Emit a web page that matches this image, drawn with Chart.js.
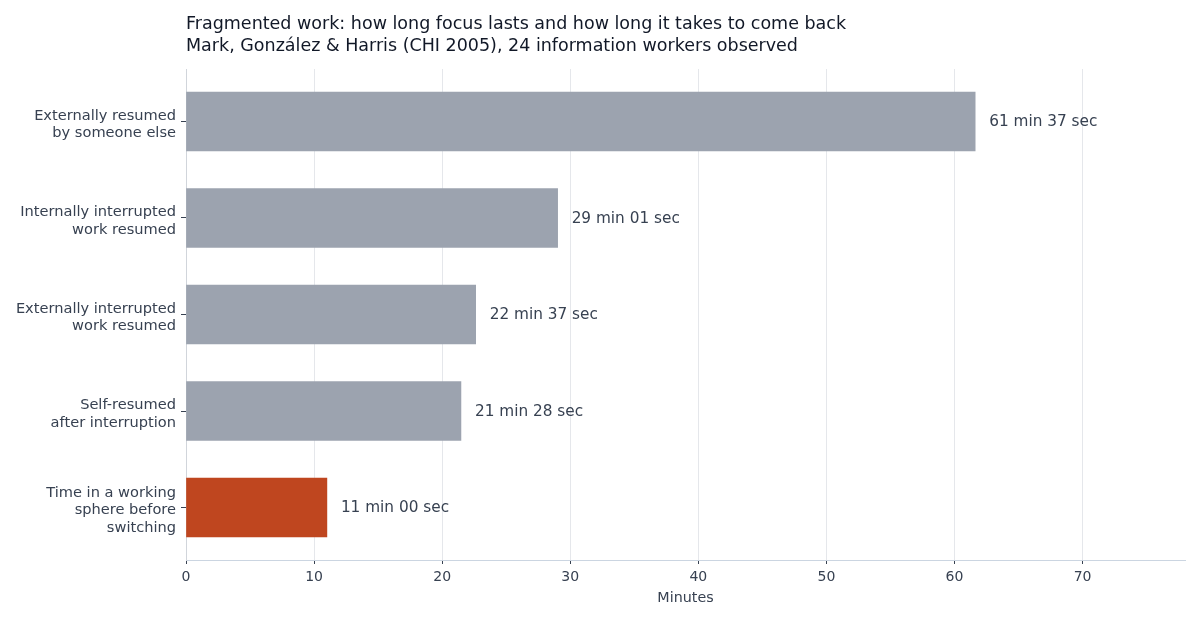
<!DOCTYPE html>
<html>
<head>
<meta charset="utf-8">
<script src="https://cdn.jsdelivr.net/npm/chart.js@4"></script>
<style>
  html, body { margin: 0; padding: 0; background: #ffffff; }
  #wrap { width: 1200px; height: 620px; }
</style>
</head>
<body>
<div id="wrap"><canvas id="c" width="1200" height="620"></canvas></div>
<script>
const categories = [
  ["Externally resumed", "by someone else"],
  ["Internally interrupted", "work resumed"],
  ["Externally interrupted", "work resumed"],
  ["Self-resumed", "after interruption"],
  ["Time in a working", "sphere before", "switching"]
];
const minutes = [61, 29, 22, 21, 11];
const seconds = [37, 1, 37, 28, 0];
const xTicks = [0, 10, 20, 30, 40, 50, 60, 70];
const highlightIndex = 4;

const values = minutes.map((m, i) => m + seconds[i] / 60);
const valueLabels = minutes.map((m, i) => m + " min " + String(seconds[i]).padStart(2, "0") + " sec");

const FONT = "'DejaVu Sans', sans-serif";
const TEXT = "#374151";

const titleLeftPlugin = {
  id: "titleLeft",
  afterLayout(chart) {
    if (chart.titleBlock) {
      chart.titleBlock.left = chart.chartArea.left;
    }
  }
};

const valueLabelPlugin = {
  id: "valueLabels",
  afterDatasetsDraw(chart) {
    const ctx = chart.ctx;
    const meta = chart.getDatasetMeta(0);
    ctx.save();
    ctx.font = "15.3px " + FONT;
    ctx.fillStyle = TEXT;
    ctx.textAlign = "left";
    ctx.textBaseline = "middle";
    meta.data.forEach((bar, i) => {
      ctx.fillText(valueLabels[i], bar.x + 14, bar.y + 1);
    });
    ctx.restore();
  }
};

new Chart(document.getElementById("c"), {
  type: "bar",
  data: {
    datasets: [{
      data: values.map((v, i) => ({ x: v, y: i })),
      backgroundColor: (ctx) => ctx.dataIndex === highlightIndex ? "#bf461f" : "#9ca3af",
      borderWidth: 0,
      barThickness: 59
    }]
  },
  options: {
    indexAxis: "y",
    responsive: false,
    animation: false,
    devicePixelRatio: 1,
    layout: { padding: { left: 0, right: 15, top: 0, bottom: 0 } },
    plugins: {
      legend: { display: false },
      tooltip: { enabled: false },
      title: {
        display: true,
        align: "start",
        text: [
          "Fragmented work: how long focus lasts and how long it takes to come back",
          "Mark, González & Harris (CHI 2005), 24 information workers observed"
        ],
        color: "#111827",
        font: { family: FONT, size: 17.5, weight: "normal", lineHeight: 1.24 },
        padding: { top: 14, bottom: 11.6 }
      }
    },
    scales: {
      x: {
        type: "linear",
        min: 0,
        max: 78,
        afterBuildTicks: (s) => { s.ticks = xTicks.map(v => ({ value: v })); },
        afterFit: (s) => { s.height = 60; },
        grid: {
          color: "#e5e7eb",
          lineWidth: 1,
          drawTicks: true,
          tickLength: 4,
          tickColor: TEXT
        },
        border: { display: true, color: "#cbd5e1", width: 1 },
        ticks: {
          color: TEXT,
          font: { family: FONT, size: 14 },
          padding: 5,
          maxRotation: 0
        },
        title: {
          display: true,
          text: "Minutes",
          color: TEXT,
          font: { family: FONT, size: 14.3 },
          padding: { top: 2, bottom: 13 }
        }
      },
      y: {
        type: "linear",
        reverse: true,
        offset: false,
        min: -0.544,
        max: 4.544,
        afterBuildTicks: (s) => { s.ticks = categories.map((c, i) => ({ value: i })); },
        afterFit: (s) => { s.width = 186; },
        grid: {
          display: true,
          offset: false,
          drawOnChartArea: false,
          drawTicks: true,
          tickLength: 5,
          tickColor: TEXT
        },
        border: { display: true, color: "#d1d5db", width: 1 },
        ticks: {
          color: TEXT,
          autoSkip: false,
          labelOffset: 3,
          font: { family: FONT, size: 14.6, lineHeight: 1.2 },
          padding: 5,
          callback: (v) => categories[v] || ""
        }
      }
    }
  },
  plugins: [titleLeftPlugin, valueLabelPlugin]
});
</script>
</body>
</html>
